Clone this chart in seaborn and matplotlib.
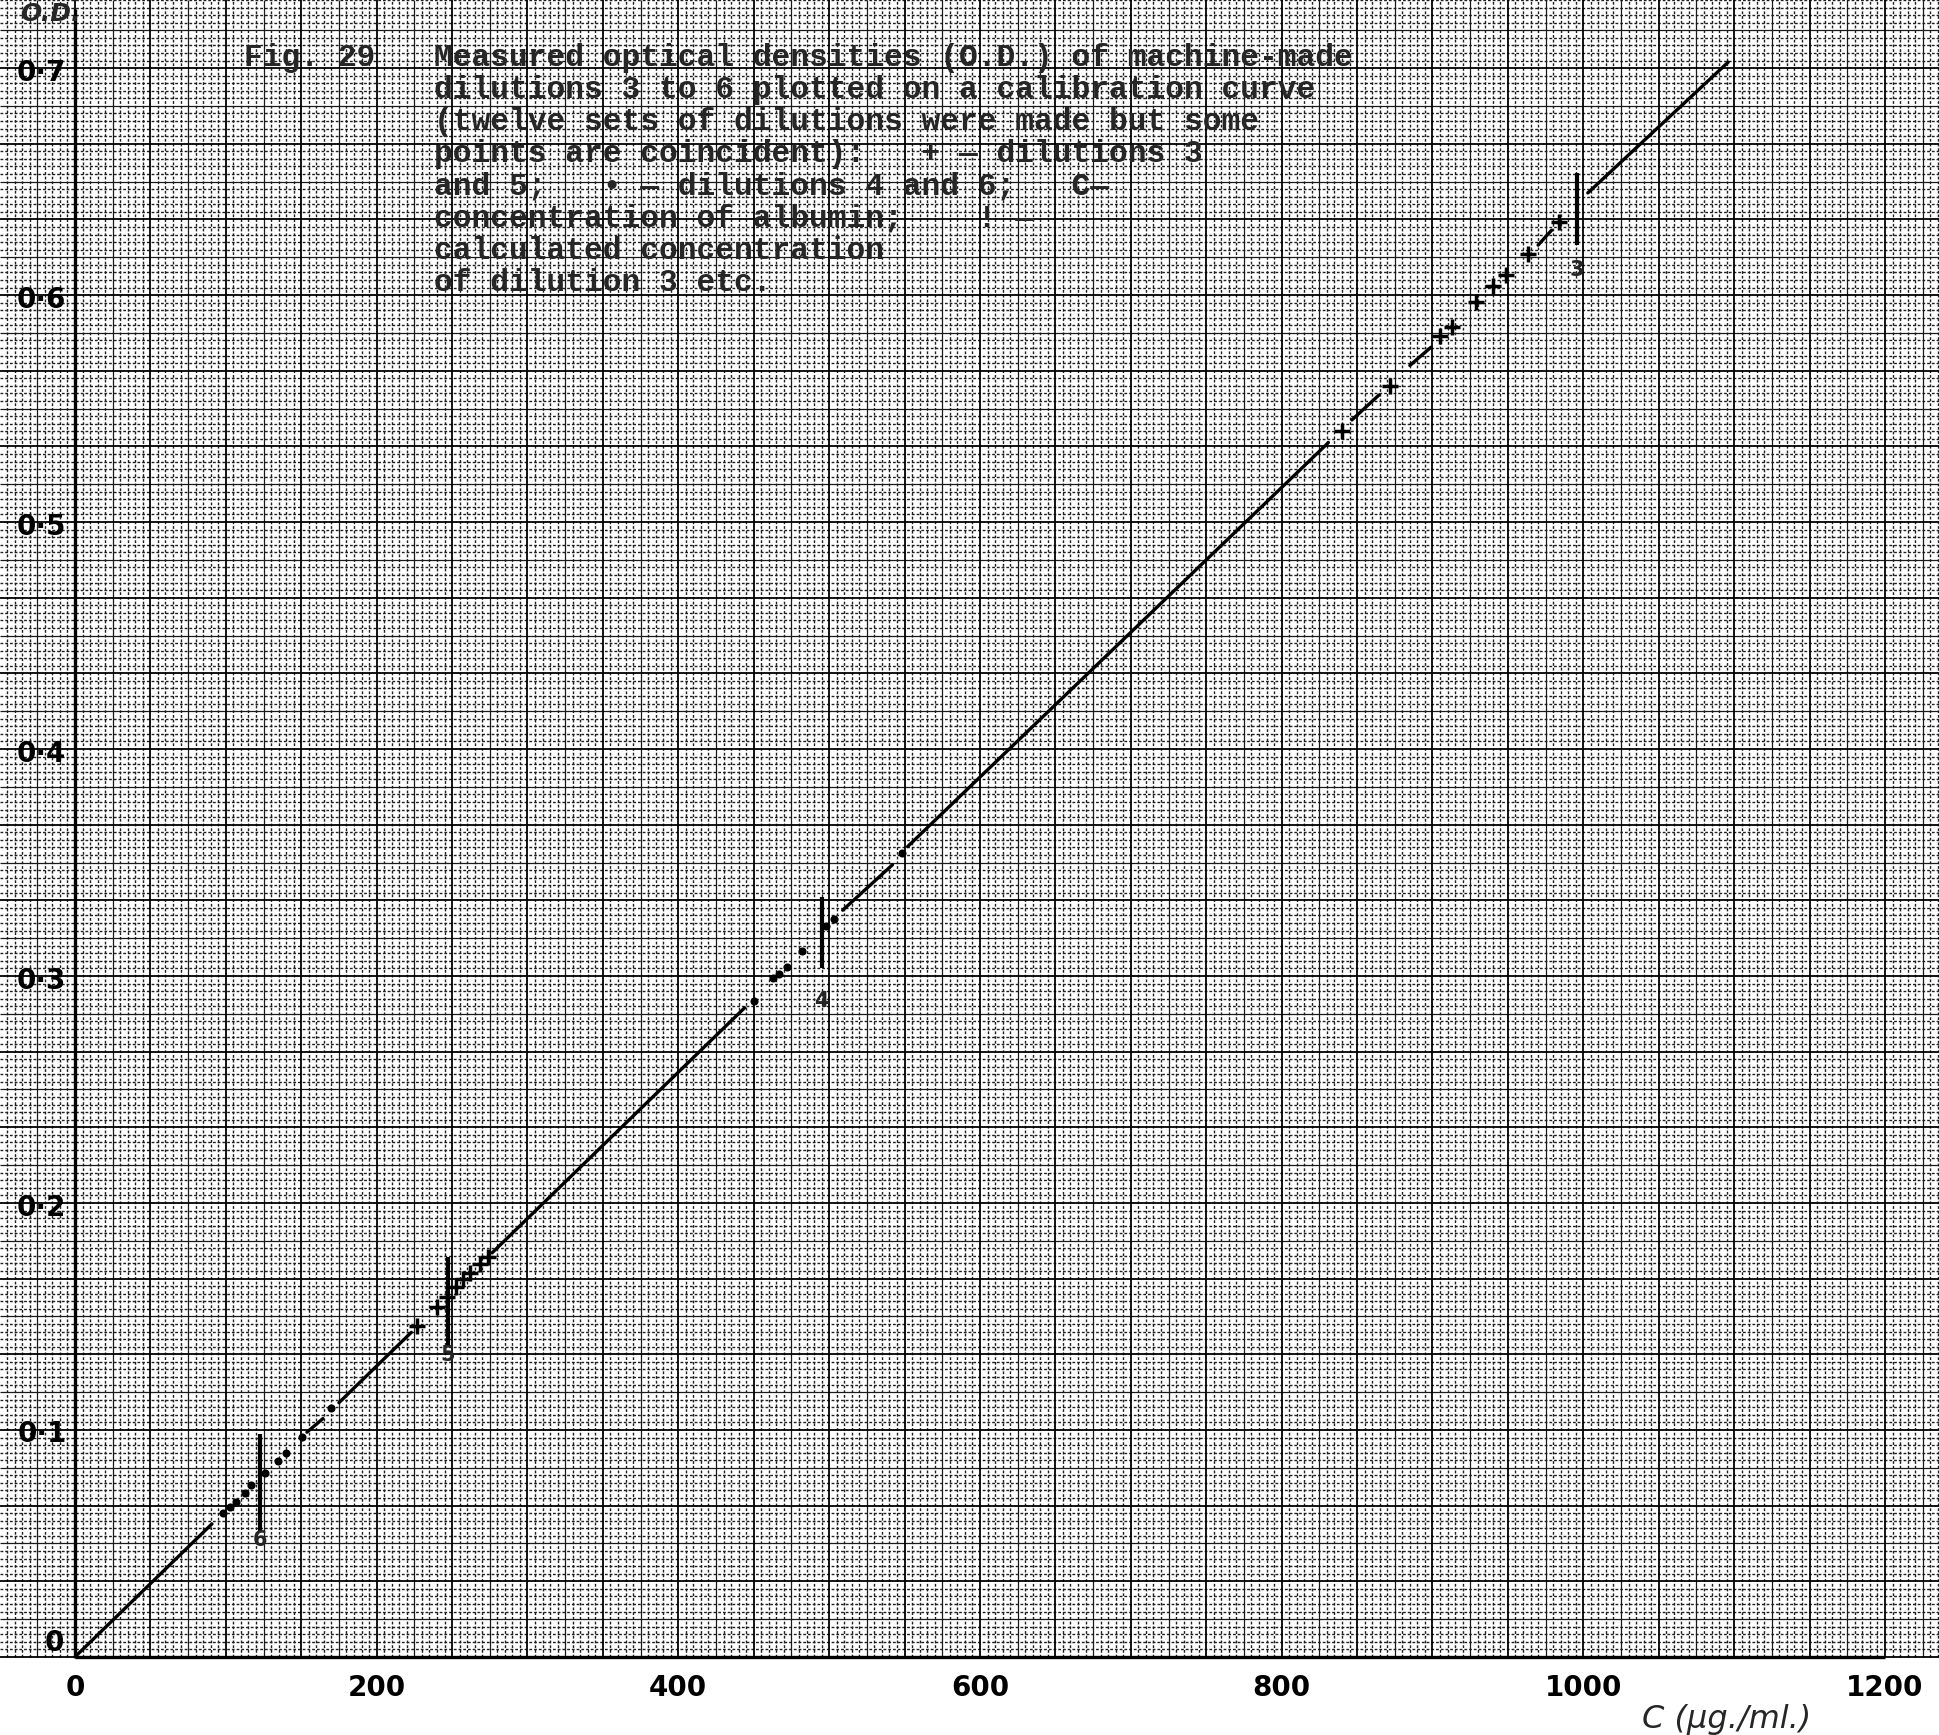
import numpy as np
import pandas as pd
import matplotlib
matplotlib.use("Agg")
import matplotlib.pyplot as plt
from matplotlib.collections import LineCollection
import seaborn as sns

# ---------------- data ----------------
# "+" points : dilutions 3 and 5
cross_conc = [227, 240, 246.6, 252.6, 257, 262, 268.5, 274,
              840, 872, 905, 913, 929, 940, 949, 963, 984]
cross_od = [0.146, 0.154, 0.1586, 0.163, 0.1665, 0.169, 0.173, 0.176,
            0.540, 0.560, 0.582, 0.586, 0.597, 0.604, 0.609, 0.618, 0.632]
# "•" points : dilutions 4 and 6
dot_conc = [98, 102.8, 106.7, 112.7, 117, 126, 134.6, 140, 150.5, 170,
            450, 463, 467, 472, 482, 498, 503, 548]
dot_od = [0.0634, 0.066, 0.0683, 0.0722, 0.0758, 0.081, 0.0863, 0.090, 0.097, 0.1097,
          0.289, 0.299, 0.301, 0.304, 0.311, 0.322, 0.325, 0.354]

# calibration curve, drawn as broken segments between the plotted points
seg_x0 = [0, 153.8, 175, 276.5, 509, 552, 846.6, 885, 970, 1003]
seg_y0 = [0, 0.099, 0.112, 0.178, 0.329, 0.357, 0.545, 0.569, 0.622, 0.645]
seg_x1 = [90.8, 164.4, 223, 444, 542, 831, 864.6, 899, 979, 1096]
seg_y1 = [0.0586, 0.105, 0.143, 0.286, 0.349, 0.535, 0.556, 0.577, 0.6286, 0.7026]

# calculated concentrations of dilutions 3..6 (vertical marks)
mark_conc = [996, 495, 247, 122.7]
mark_top = [0.654, 0.335, 0.176, 0.098]
mark_bottom = [0.622, 0.3035, 0.1366, 0.055]
mark_labels = ["3", "4", "5", "6"]
mark_label_y = [0.611, 0.289, 0.133, 0.0515]

x_ticks = [0, 200, 400, 600, 800, 1000, 1200]
x_tick_labels = ["0", "200", "400", "600", "800", "1000", "1200"]
y_ticks = [0.1, 0.2, 0.3, 0.4, 0.5, 0.6, 0.7]
y_tick_labels = ["0·1", "0·2", "0·3", "0·4", "0·5", "0·6", "0·7"]

caption_title = "Fig. 29"
caption_lines = [
    "Measured optical densities (O.D.) of machine-made",
    "dilutions 3 to 6 plotted on a calibration curve",
    "(twelve sets of dilutions were made but some",
    "points are coincident):   + — dilutions 3",
    "and 5;   • — dilutions 4 and 6;   C—",
    "concentration of albumin;    ! —",
    "calculated concentration",
    "of dilution 3 etc.",
]

# ---------------- figure ----------------
sns.set_style("white")
W, H = 1939, 1735
fig = plt.figure(figsize=(W / 100, H / 100), dpi=100)
ax = fig.add_axes([0, 0, 1, 1])
XMIN, XMAX = -49.7, 1235.8
YMIN, YMAX = -0.0344, 0.730
ax.set_xlim(XMIN, XMAX)
ax.set_ylim(YMIN, YMAX)
ax.axis("off")

# ---- graph paper (styling only) ----
def vlines(xs):
    return [[(x, 0), (x, YMAX)] for x in xs]

def hlines(ys):
    return [[(XMIN, y), (XMAX, y)] for y in ys]

xs_all = np.arange(-45, 1240, 5.0)
major_x = [x for x in xs_all if abs(x / 50 - round(x / 50)) < 1e-6]
mid_x = [x for x in xs_all if abs(x / 25 - round(x / 25)) < 1e-6 and x not in major_x]
minor_x = [x for x in xs_all if x not in major_x and x not in mid_x]

k = np.arange(0, int(YMAX * 300) + 1)
ys_all = k / 300.0
major_y = [y for i, y in zip(k, ys_all) if i % 10 == 0]
mid_y = [y for i, y in zip(k, ys_all) if i % 5 == 0 and i % 10 != 0]
minor_y = [y for i, y in zip(k, ys_all) if i % 5 != 0]

ax.add_collection(LineCollection(vlines(minor_x) + hlines(minor_y), colors="0.12",
                                 linewidths=1.0, linestyles=(0, (2.0, 1.4)), zorder=1))
ax.add_collection(LineCollection(vlines(mid_x) + hlines(mid_y), colors="0.1",
                                 linewidths=0.9, zorder=1))
ax.add_collection(LineCollection(vlines(major_x) + hlines(major_y), colors="0.0",
                                 linewidths=1.3, zorder=1))

# ---- axes lines ----
ax.plot([0, 0], [0, 0.726], color="black", lw=2.4, zorder=3, solid_capstyle="butt")
ax.plot([0, 1200], [0, 0], color="black", lw=2.4, zorder=3, solid_capstyle="butt")

# ---- calibration curve ----
seg_rows = []
for i, (a, b, c, d) in enumerate(zip(seg_x0, seg_y0, seg_x1, seg_y1)):
    seg_rows.append({"seg": i, "C": a, "OD": b})
    seg_rows.append({"seg": i, "C": c, "OD": d})
seg_df = pd.DataFrame(seg_rows)
sns.lineplot(data=seg_df, x="C", y="OD", units="seg", estimator=None, sort=False,
             color="black", lw=2.4, ax=ax, zorder=4, legend=False)

# ---- points ----
sns.scatterplot(x=cross_conc, y=cross_od, marker="+", s=120, color="black",
                linewidth=2.5, ax=ax, zorder=5, legend=False)
sns.scatterplot(x=dot_conc, y=dot_od, marker="o", s=34, color="black",
                edgecolor="black", linewidth=0, ax=ax, zorder=5, legend=False)

# ---- calculated-concentration marks ----
ax.vlines(mark_conc, mark_bottom, mark_top, color="black", lw=3.0, zorder=5)
for xv, yv, lab in zip(mark_conc, mark_label_y, mark_labels):
    ax.text(xv, yv, lab, ha="center", va="center", fontsize=15, fontweight="bold",
            family=["DejaVu Sans"], zorder=6)

# ---- tick labels (hand lettering) ----
hand = dict(fontsize=20, fontweight="bold", family=["DejaVu Sans"], color="black")
for xv, lab in zip(x_ticks, x_tick_labels):
    ax.text(xv, -0.0137, lab, ha="center", va="center", **hand)
for yv, lab in zip(y_ticks, y_tick_labels):
    ax.text(-22, yv - 0.002, lab, ha="center", va="center", zorder=6, **hand)
ax.text(-13.5, 0.006, "0", ha="center", va="center", zorder=6, **hand)
ax.text(-16, 0.7237, "O.D.", ha="center", va="center", zorder=6,
        fontsize=18, fontweight="bold", fontstyle="italic", family=["DejaVu Sans"])
ax.text(1095, -0.0275, "C (μg./ml.)", ha="center", va="center", fontsize=23,
        fontstyle="italic", family=["DejaVu Sans"])

# ---- caption (typewritten) ----
mono = ["Liberation Mono", "DejaVu Sans Mono"]
y0_px, dy_px = 58, 32.1
fig.text(244 / W, 1 - y0_px / H, caption_title, ha="left", va="center",
         fontsize=22.5, fontweight="bold", family=mono, zorder=7)
for i, line in enumerate(caption_lines):
    fig.text(434 / W, 1 - (y0_px + i * dy_px) / H, line, ha="left", va="center",
             fontsize=22.5, fontweight="bold", family=mono, zorder=7)

fig.savefig("out.png", dpi=100, facecolor="white")
